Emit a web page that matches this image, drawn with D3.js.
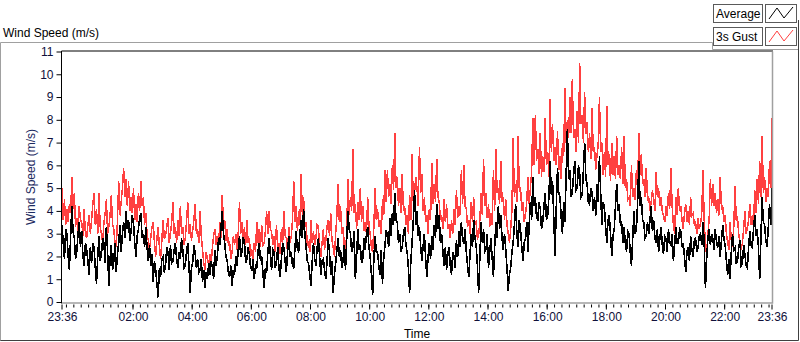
<!DOCTYPE html>
<html>
<head>
<meta charset="utf-8">
<script src="https://cdn.jsdelivr.net/npm/d3@7"></script>
<style>
  html, body { margin: 0; padding: 0; background: #ffffff; }
  svg { display: block; }
  text { font-family: "Liberation Sans", Arial, sans-serif; }
</style>
</head>
<body>
<svg id="chart" width="800" height="342"></svg>
<script>
// ---- data, one sample every 2.5 minutes starting 23:36 ----
const startTime = "23:36";
const stepMinutes = 2.5;

const gust = [
  5.0,3.6,4.5,3.4,4.1,3.5,4.3,3.9,5.5,4.1,4.8,3.3,3.7,3.1,4.2,3.6,3.5,2.9,4.1,3.0,2.8,3.4,3.8,3.0,
  3.6,4.3,4.8,3.4,4.1,3.0,4.8,3.3,3.0,2.6,3.5,3.9,4.5,3.0,3.3,3.8,4.7,3.4,3.2,2.6,2.4,3.6,5.3,3.8,
  4.4,5.0,5.9,4.6,5.4,4.2,5.3,4.0,4.6,3.9,5.0,3.6,4.3,3.5,4.8,4.0,5.3,4.2,4.6,3.4,3.9,3.0,2.7,2.3,
  2.8,3.3,3.5,2.6,2.0,2.8,3.3,2.4,1.9,2.7,3.6,2.8,2.9,3.3,3.7,2.6,3.0,3.5,4.4,3.0,3.3,2.6,3.6,2.9,
  4.2,3.0,3.3,2.5,2.8,3.5,4.4,3.0,3.4,2.7,3.1,3.6,4.3,3.0,3.2,2.6,4.0,2.9,2.3,1.7,1.4,2.2,1.9,1.6,
  2.1,1.6,2.4,2.9,3.2,2.5,2.9,2.4,3.5,2.8,4.7,3.4,3.6,2.7,3.2,2.5,2.6,1.9,2.2,2.9,2.5,3.0,2.3,3.1,
  4.4,3.0,3.5,2.6,3.3,2.5,3.6,2.6,2.8,2.0,2.3,1.9,2.6,2.2,3.5,2.6,3.2,2.4,3.4,2.5,2.6,3.1,4.0,3.0,
  4.0,3.2,3.1,2.5,2.9,2.2,3.4,2.4,2.6,2.1,3.2,2.6,4.0,2.9,2.8,2.2,3.3,2.6,2.9,3.6,5.3,3.5,4.2,3.1,
  4.0,3.4,5.6,3.8,4.6,3.3,3.5,2.5,2.6,2.2,3.6,2.6,3.1,2.5,2.8,3.4,3.3,2.4,2.0,2.6,3.2,2.3,2.7,3.3,
  3.6,2.9,3.9,2.7,2.4,2.0,3.0,3.8,5.2,3.5,4.2,3.0,3.3,2.5,2.0,3.2,5.4,3.8,4.6,4.0,6.7,3.9,4.3,3.2,
  4.4,3.6,5.0,3.5,4.2,3.1,3.5,3.0,4.6,3.4,3.0,2.4,2.2,3.3,5.0,3.6,4.1,3.3,3.6,3.0,4.5,3.8,5.8,4.4,
  5.8,4.6,5.2,4.3,6.0,4.9,7.4,5.0,5.5,4.2,5.0,3.9,5.6,4.0,4.2,3.4,3.8,3.0,4.7,3.6,6.5,4.4,4.8,5.5,
  5.0,4.2,6.8,4.8,5.6,4.0,4.6,3.5,3.8,3.0,4.1,3.6,6.1,4.3,5.2,4.4,6.3,4.6,4.4,3.6,3.8,3.2,4.5,3.5,
  4.3,3.2,3.4,2.8,3.6,3.0,4.1,3.4,4.9,3.7,4.2,3.8,5.8,4.3,6.0,4.2,4.1,3.3,3.6,3.0,4.4,3.5,4.6,3.4,
  3.5,2.8,2.9,3.6,4.8,3.8,6.3,4.2,4.8,3.7,4.3,3.3,3.9,3.4,5.8,4.0,6.7,4.8,5.0,4.3,6.2,4.4,4.6,3.6,
  4.5,3.4,3.0,2.6,3.2,4.0,7.2,4.6,5.2,4.4,7.3,4.9,5.0,4.0,4.4,3.5,3.8,4.4,5.5,4.3,5.0,5.7,8.1,6.0,
  8.2,6.2,6.7,5.6,7.4,5.5,6.4,5.7,8.1,6.0,6.6,5.5,8.9,6.6,7.8,6.2,6.8,6.0,7.5,5.8,6.4,5.4,7.0,6.4,
  9.4,7.0,8.0,7.2,9.0,7.4,9.8,7.2,7.6,6.6,8.4,7.0,10.5,7.8,8.2,7.0,9.2,7.4,7.9,6.6,7.4,6.3,8.5,6.6,
  6.8,5.8,6.4,6.9,9.0,6.6,7.0,5.6,6.6,5.5,8.6,6.0,6.5,5.3,7.0,5.6,6.4,5.4,7.3,5.6,6.0,5.4,6.8,5.2,
  7.3,5.0,5.4,4.5,4.6,4.2,6.0,4.6,5.0,4.5,5.8,5.0,7.4,5.6,6.5,5.2,5.4,4.6,5.9,4.5,4.6,4.0,4.4,4.9,
  4.5,4.0,5.7,4.6,5.0,4.2,4.6,4.0,3.8,3.5,4.2,3.8,4.8,4.1,5.9,4.2,3.4,3.0,4.6,3.8,5.0,4.0,4.2,3.6,
  3.2,3.9,4.3,3.5,4.0,3.4,4.6,3.8,3.9,3.4,3.5,3.0,3.7,3.2,3.4,3.9,5.8,3.6,2.4,2.1,3.0,3.6,5.4,4.2,
  5.2,4.2,4.8,3.9,4.5,3.8,5.5,4.1,4.2,3.5,3.8,3.0,2.6,2.3,3.5,2.7,2.4,3.3,5.1,3.6,3.7,3.0,2.6,2.3,
  2.6,3.2,4.0,3.0,3.2,3.6,4.3,3.4,3.8,3.3,4.9,3.9,5.4,4.3,6.2,4.6,7.3,4.8,5.5,4.4,5.0,4.6,6.2,5.0,
  8.1
];

const average = [
  3.4,2.6,1.9,3.2,3.0,2.0,1.4,2.9,4.2,3.1,2.8,1.9,2.2,3.0,3.5,2.4,3.1,2.0,1.6,2.6,2.3,1.8,1.2,2.4,
  1.7,2.6,2.4,1.5,0.8,2.0,2.9,1.8,2.1,2.8,2.6,1.7,3.3,2.2,0.7,1.9,2.5,1.4,1.8,2.6,1.3,2.1,2.6,3.4,
  2.2,3.0,3.5,2.8,4.0,3.2,3.6,2.7,3.1,3.8,3.5,2.6,2.0,2.9,3.2,3.7,3.9,2.8,3.0,2.4,3.3,2.4,1.8,2.5,
  1.6,2.1,0.9,1.8,1.4,0.8,0.2,1.5,1.1,1.9,2.0,1.3,1.6,2.4,2.2,1.4,2.5,1.7,1.8,2.3,2.6,1.9,1.5,2.2,
  1.9,2.8,2.3,1.5,1.6,2.2,2.6,1.6,0.4,1.5,1.7,2.5,2.2,1.5,1.9,1.3,1.4,1.9,0.9,1.4,0.6,1.3,1.0,1.7,
  1.2,1.8,1.5,1.0,2.3,1.6,2.0,2.8,2.5,3.3,4.0,3.0,2.6,2.0,1.8,1.3,1.1,1.6,0.7,1.4,1.2,2.0,1.6,2.3,
  2.9,2.0,2.2,2.8,2.7,1.7,1.9,2.4,2.1,1.5,1.4,1.9,1.0,1.6,1.5,2.2,2.6,1.8,2.0,1.3,0.6,1.5,1.3,2.2,
  2.8,2.1,1.4,2.3,2.2,1.5,1.7,2.4,1.5,1.1,1.9,2.6,2.4,1.8,1.3,2.2,2.9,2.0,2.2,1.6,1.5,2.4,3.1,2.3,
  2.2,3.0,3.6,2.8,4.1,3.0,2.4,1.8,1.7,1.2,0.7,1.8,2.6,1.9,1.6,2.4,2.8,2.0,1.2,1.8,1.9,1.4,1.0,1.8,
  2.8,2.2,1.2,1.8,0.4,1.2,1.7,2.3,2.8,2.0,2.3,1.5,1.8,2.5,1.4,2.8,4.0,3.2,3.0,2.2,2.4,3.1,1.0,2.0,
  3.2,2.3,2.5,1.7,1.9,2.8,2.3,3.0,3.3,2.4,2.0,1.2,0.3,1.9,2.9,2.2,2.2,1.6,1.2,2.3,0.8,1.9,2.5,3.1,
  3.0,2.4,3.7,2.9,3.9,3.4,4.8,3.6,3.5,2.6,3.0,2.2,2.4,3.0,3.3,2.5,2.2,1.5,0.4,1.8,2.6,3.6,4.9,3.4,
  4.0,2.9,3.3,2.4,1.8,2.5,3.0,1.9,1.1,2.0,2.6,1.9,2.9,2.3,3.4,2.8,4.3,3.2,3.8,2.6,3.0,2.2,1.6,2.4,
  1.4,2.1,2.4,1.6,1.2,2.2,2.0,1.5,2.7,2.0,3.1,2.4,3.5,2.7,2.6,3.2,2.2,1.6,1.1,2.1,3.0,2.4,3.6,2.8,
  2.5,1.6,0.4,2.0,3.5,2.6,3.2,2.2,2.3,3.0,1.5,2.2,2.8,1.9,1.1,2.4,3.5,2.8,4.2,3.2,3.8,2.8,2.3,3.0,
  2.3,1.5,0.5,1.2,1.5,2.2,2.6,3.4,4.3,3.0,2.4,3.6,3.2,2.4,1.8,2.6,2.8,3.5,2.2,3.4,4.4,3.6,5.5,4.2,
  4.6,3.7,3.6,4.4,4.1,3.2,3.5,4.2,4.8,3.6,3.8,4.6,6.2,4.7,5.3,3.6,2.0,4.2,5.9,4.8,4.6,3.7,3.0,4.4,
  3.5,5.6,7.6,5.4,5.8,4.6,4.8,5.6,6.2,4.9,5.0,6.0,5.6,4.6,4.7,5.8,7.0,5.4,5.2,4.4,4.3,5.0,4.8,4.0,
  4.6,3.8,5.2,4.4,6.4,4.8,3.4,4.4,4.2,3.3,2.6,3.6,3.8,3.0,2.0,2.9,3.2,4.2,5.2,4.0,4.3,3.4,3.5,2.6,
  3.3,2.6,2.2,3.1,3.0,2.2,1.6,2.8,4.0,3.0,3.2,4.4,6.2,4.2,4.6,3.6,3.5,2.8,2.9,3.5,3.0,3.6,4.2,3.1,
  3.6,2.8,2.6,3.2,2.2,2.8,3.3,2.5,2.1,2.9,2.8,2.2,3.2,2.6,2.5,3.0,1.8,2.5,3.3,2.6,2.6,3.2,3.1,2.4,
  2.6,2.0,1.3,2.2,2.4,1.8,2.9,2.3,2.0,2.7,2.8,2.2,2.4,2.9,3.0,2.5,3.5,2.6,0.6,1.9,2.8,3.2,2.5,3.0,
  2.8,2.3,3.2,2.6,2.4,2.9,2.0,2.7,3.4,2.8,2.5,1.8,1.2,1.9,1.0,2.2,3.0,2.3,2.4,1.7,1.8,2.4,2.7,1.6,
  1.7,2.5,2.1,1.6,1.5,2.4,3.1,2.5,2.4,3.2,3.8,2.9,3.2,2.4,1.0,2.8,4.6,3.5,3.4,2.7,2.4,3.3,4.3,3.4,
  5.0
];

const yTicks = [0,1,2,3,4,5,6,7,8,9,10,11];
const xTickLabels = ["23:36","02:00","04:00","06:00","08:00","10:00","12:00","14:00","16:00","18:00","20:00","22:00","23:36"];
const seriesNames = ["Average", "3s Gust"];
const seriesColors = ["#000000", "#ff4040"];

// ---- build ----
const svg = d3.select("#chart");
const parseHM = s => { const [h, m] = s.split(":").map(Number); return {h, m}; };
const st = parseHM(startTime);
const t0 = new Date(2020, 0, 1, st.h, st.m);
const t1 = new Date(t0.getTime() + 24 * 3600 * 1000);
const timeAt = i => new Date(t0.getTime() + i * stepMinutes * 60000);

const L = 62, R = 772, T = 51.5, B = 302.5;
const x = d3.scaleTime().domain([t0, t1]).range([L, R]);
const y = d3.scaleLinear().domain([0, 11]).range([302, 51.5]);

// outer panel frame
const frame = svg.append("g");
frame.append("path").attr("d", "M0.5,341 V42.5 H712.5 V49.5 H799")
  .attr("fill", "none").attr("stroke", "#a0a0a0");
frame.append("path").attr("d", "M0.5,340.5 H798.5 V20")
  .attr("fill", "none").attr("stroke", "#404040");

// panel title
svg.append("text").attr("x", 3).attr("y", 37).attr("font-size", 12).attr("fill", "#000")
  .text("Wind Speed (m/s)");

// plot background
svg.append("rect").attr("x", L).attr("y", T).attr("width", R - L).attr("height", B - T).attr("fill", "#fff");

// data lines
const line = d3.line().x((d, i) => x(timeAt(i))).y(d => y(d));
svg.append("path").datum(gust).attr("d", line).attr("fill", "none")
  .attr("stroke", seriesColors[1]).attr("stroke-width", 1.5).attr("shape-rendering", "crispEdges");
svg.append("path").datum(average).attr("d", line).attr("fill", "none")
  .attr("stroke", seriesColors[0]).attr("stroke-width", 1.6).attr("shape-rendering", "crispEdges");

// plot frame: top/left black, bottom/right gray
svg.append("path").attr("d", `M${L - 0.5},${B + 1} V${T - 0.5} H${R + 1}`).attr("fill", "none").attr("stroke", "#000");
svg.append("path").attr("d", `M${L},${B + 0.5} H${R + 0.5} V${T}`).attr("fill", "none").attr("stroke", "#a0a0a0").attr("stroke-width", 1.5);

// y axis
const yAxis = d3.axisLeft(y).tickValues(yTicks).tickSize(5).tickPadding(3).tickFormat(d3.format("d"));
const gy = svg.append("g").attr("transform", `translate(${L - 0.5},0)`).call(yAxis);
gy.select(".domain").remove();
gy.selectAll("line").attr("stroke", "#000");
gy.selectAll("text").attr("font-size", 12).attr("fill", "#10103a").attr("font-family", "Liberation Sans, Arial, sans-serif");

// x axis ticks
const majorTimes = xTickLabels.map((s, i) => {
  if (i === 0) return t0;
  if (i === xTickLabels.length - 1) return t1;
  const p = parseHM(s);
  return new Date(2020, 0, 2, p.h, p.m);
});
const minorTimes = [];
for (let t = new Date(2020, 0, 1, 23, 45); t < t1; t = new Date(t.getTime() + 15 * 60000)) minorTimes.push(t);

const gxMinor = svg.append("g").attr("transform", `translate(0,${B + 2})`)
  .call(d3.axisBottom(x).tickValues(minorTimes).tickSize(3).tickFormat(""));
gxMinor.select(".domain").remove();
gxMinor.selectAll("line").attr("stroke", "#000").attr("transform", "translate(-0.5,0)");

const gx = svg.append("g").attr("transform", `translate(0,${B + 2})`)
  .call(d3.axisBottom(x).tickValues(majorTimes).tickSize(5).tickPadding(3).tickFormat((d, i) => xTickLabels[i]));
gx.select(".domain").remove();
gx.selectAll("line").attr("stroke", "#000").attr("transform", "translate(-0.5,0)");
gx.selectAll("text").attr("font-size", 12).attr("fill", "#10103a").attr("font-family", "Liberation Sans, Arial, sans-serif");

// axis titles
svg.append("text").attr("x", (L + R) / 2).attr("y", 338).attr("text-anchor", "middle")
  .attr("font-size", 12).attr("fill", "#000").text("Time");
svg.append("text").attr("transform", `translate(35,${(T + B) / 2}) rotate(-90)`).attr("text-anchor", "middle")
  .attr("font-size", 12).attr("fill", "#1c2a60").text("Wind Speed (m/s)");

// legend
const legend = svg.append("g");
seriesNames.forEach((name, i) => {
  const yy = 4 + i * 23;
  legend.append("rect").attr("x", 713.5).attr("y", yy + 0.5).attr("width", 49).attr("height", 18)
    .attr("fill", "#fff").attr("stroke", "#5a5a5a");
  legend.append("text").attr("x", 716).attr("y", yy + 14).attr("font-size", 12).attr("fill", "#000").text(name);
  legend.append("rect").attr("x", 765.5).attr("y", yy + 0.5).attr("width", 31).attr("height", 18)
    .attr("fill", "#fff").attr("stroke", "#5a5a5a");
  const icon = d3.line()([[769, yy + 15], [777, yy + 4], [784, yy + 14], [793, yy + 3]]);
  legend.append("path").attr("d", icon).attr("fill", "none").attr("stroke", seriesColors[i]).attr("stroke-width", 1);
});
</script>
</body>
</html>
